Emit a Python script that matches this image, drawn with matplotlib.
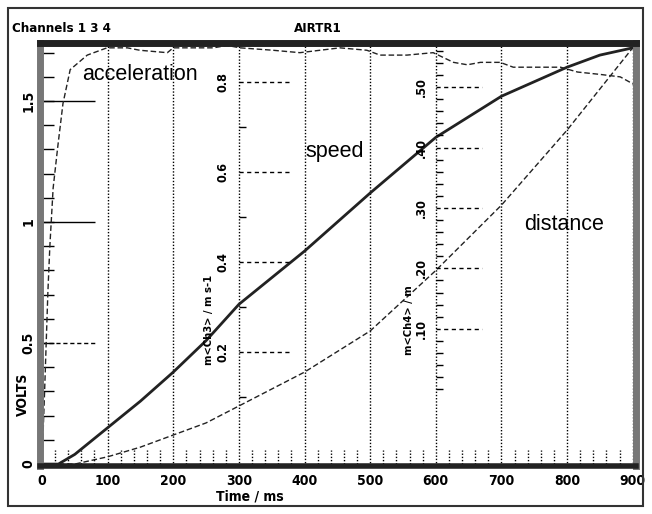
import numpy as np
import matplotlib.pyplot as plt
from matplotlib.patches import Rectangle

# valores (tiempo en ms, tension en V)
t_acel = [0, 4, 9, 12, 17, 24, 32, 43, 69, 99, 130, 149, 191, 200, 261, 282, 302, 352, 393,
          454, 495, 515, 556, 596, 627, 648, 668, 698, 718, 748, 790, 816, 851, 881, 901]
v_acel = [0.0, 0.30, 0.71, 0.90, 1.14, 1.31, 1.49, 1.63, 1.69, 1.72, 1.72, 1.71, 1.70, 1.72, 1.72,
          1.73, 1.72, 1.71, 1.70, 1.72, 1.71, 1.69, 1.69, 1.70, 1.66, 1.65, 1.66, 1.66, 1.64, 1.64,
          1.64, 1.62, 1.61, 1.60, 1.57]

t_vel = [0, 25, 50, 100, 150, 200, 250, 300, 350, 400, 500, 600, 700, 800, 850, 900]
v_vel = [0.0, 0.0, 0.04, 0.15, 0.26, 0.38, 0.51, 0.66, 0.77, 0.88, 1.12, 1.35, 1.52, 1.64, 1.69, 1.72]

t_dist = [0, 50, 100, 150, 200, 250, 300, 400, 500, 600, 700, 800, 850, 900]
v_dist = [0.0, 0.0, 0.03, 0.07, 0.12, 0.17, 0.24, 0.38, 0.55, 0.80, 1.07, 1.38, 1.55, 1.72]

x_ticks = [0, 100, 200, 300, 400, 500, 600, 700, 800, 900]
y_ticks = [0, 0.5, 1, 1.5]
y_labels = ['0', '0.5', '1', '1.5']

vel_ticks = [0.2, 0.4, 0.6, 0.8]        # m/s, eje en 300 ms
vel_labels = ['0.2', '0.4', '0.6', '0.8']
dist_ticks = [0.1, 0.2, 0.3, 0.4, 0.5]  # eje en 600 ms
dist_labels = ['.10', '.20', '.30', '.40', '.50']

pix = dict(family='DejaVu Sans', fontstretch='condensed', weight='bold')
W, H = 652, 514

fig = plt.figure(figsize=(W/100, H/100), dpi=100)
fig.add_artist(Rectangle((8/W, 8/H), 635/W, 498/H, transform=fig.transFigure,
                         fill=False, lw=1.5, ec='#333'))
fig.text(12/W, 1-28/H, 'Channels 1 3 4', fontsize=9.5, va='center', **pix)
fig.text(318/W, 1-28/H, 'AIRTR1', fontsize=9.5, va='center', ha='center', **pix)

ax = fig.add_axes([40/W, 48/H, 596/W, 423/H])
ax.set_xlim(-3, 905)
ax.set_ylim(-0.008, 1.74)

for s in ['left', 'right']:
    ax.spines[s].set_linewidth(5)
    ax.spines[s].set_color('#777')
ax.spines['top'].set_linewidth(5)
ax.spines['top'].set_color('#222')
ax.spines['bottom'].set_linewidth(4)
ax.spines['bottom'].set_color('#222')

# rejilla vertical punteada
for t in x_ticks[1:]:
    ax.axvline(t, color='k', lw=1, ls=(0, (1, 1.3)))
# marcas menores abajo cada 20 ms
for t in np.arange(20, 905, 20):
    if t % 100:
        ax.vlines(t, 0, 0.06, color='k', lw=1, ls=(0, (1, 1.3)))

ax.set_xticks(x_ticks)
ax.set_xticklabels([str(t) for t in x_ticks], fontsize=10, **pix)
ax.set_yticks(y_ticks)
ax.set_yticklabels(y_labels, fontsize=10, rotation=90, va='center', **pix)
ax.set_yticks(np.arange(0.1, 1.71, 0.1), minor=True)
ax.tick_params(axis='x', length=0, pad=6)
ax.tick_params(axis='y', which='both', direction='in', length=10, width=1, pad=3)
ax.set_xlabel('Time / ms', fontsize=10, labelpad=0, **pix)
ax.xaxis.set_label_coords(0.352, -0.055)
ax.set_ylabel('VOLTS', fontsize=10, **pix)
ax.yaxis.set_label_coords(-0.017, 0.17)

ax.hlines([1.0, 1.5], 0, 81, color='k', lw=1)
ax.hlines([0.5], 0, 81, color='k', lw=1, ls=(0, (3, 2)))

# curvas
ax.plot(t_acel, v_acel, color='#222', lw=1, ls=(0, (4, 2)))
ax.plot(t_vel, v_vel, color='#222', lw=2)
ax.plot(t_dist, v_dist, color='#222', lw=1, ls=(0, (4, 2)))

# eje de velocidad en 300 ms
av = ax.twinx()
av.set_ylim(-0.054, 0.887)
av.spines[:].set_visible(False)
av.yaxis.set_ticks_position('left')
av.spines['left'].set_position(('axes', 303/908))
av.set_yticks(vel_ticks)
av.set_yticklabels(vel_labels, fontsize=9, rotation=90, va='center', **pix)
av.set_yticks(np.arange(0.1, 0.85, 0.2), minor=True)
av.tick_params(axis='y', which='major', direction='in', length=0, pad=7)
av.tick_params(axis='y', which='minor', direction='in', length=5, width=1)
av.set_xlim(ax.get_xlim())
for v in vel_ticks:
    av.plot([300, 378], [v, v], color='k', lw=1, ls=(0, (3, 2.5)))
av.text(254, 0.27, 'm<Ch3> / m s-1', rotation=90, fontsize=8, ha='center', va='center', **pix)

# eje de distancia en 600 ms
ad = ax.twinx()
ad.set_ylim(-0.127, 0.573)
ad.spines[:].set_visible(False)
ad.yaxis.set_ticks_position('left')
ad.spines['left'].set_position(('axes', 603/908))
ad.set_yticks(dist_ticks)
ad.set_yticklabels(dist_labels, fontsize=9, rotation=90, va='center', **pix)
ad.set_yticks(np.arange(0.0, 0.56, 0.02), minor=True)
ad.tick_params(axis='y', which='major', direction='in', length=0, pad=6)
ad.tick_params(axis='y', which='minor', direction='in', length=5, width=1)
ad.set_xlim(ax.get_xlim())
for d in dist_ticks:
    ad.plot([600, 670], [d, d], color='k', lw=1, ls=(0, (3, 2.5)))
ad.text(559, 0.115, 'm<Ch4> / m', rotation=90, fontsize=8, ha='center', va='center', **pix)

# rotulos
ax.text(61, 1.61, 'acceleration', fontsize=15.5, family='Liberation Sans', va='center')
ax.text(401, 1.29, 'speed', fontsize=15.5, family='Liberation Sans', va='center')
ax.text(735, 0.99, 'distance', fontsize=15.5, family='Liberation Sans', va='center')

fig.savefig('out.png', dpi=100)
